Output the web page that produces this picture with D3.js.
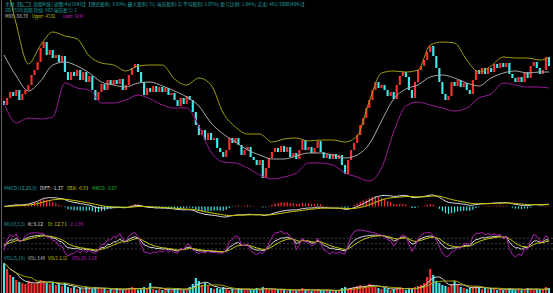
<!DOCTYPE html>
<html>
<head>
<meta charset="utf-8">
<script src="https://cdn.jsdelivr.net/npm/d3@7"></script>
<style>
  html, body { margin: 0; padding: 0; background: #000; }
  svg { display: block; }
  text { font-family: "Noto Sans CJK SC", "DejaVu Sans", sans-serif; font-size: 5px; }
</style>
</head>
<body>
<div id="chart"></div>
<script>
// closes of each weekly candle (open = previous close)
var firstOpen = 84;
var closes = [
  80, 87, 93, 89, 95, 85, 91, 95, 100, 110, 115, 123, 137, 143, 130, 135, 127, 130, 123, 129,
  113, 105, 113, 109, 115, 105, 113, 103, 109, 95, 85, 93, 101, 95, 105, 100, 105, 101, 106, 95,
  100, 110, 117, 121, 113, 103, 90, 97, 93, 99, 93, 98, 93, 97, 90, 92, 85, 79, 87, 81,
  89, 85, 73, 60, 50, 55, 45, 52, 45, 47, 37, 33, 28, 35, 47, 42, 47, 40, 30, 35,
  38, 28, 25, 20, 25, 7, 17, 27, 33, 37, 33, 39, 33, 38, 28, 32, 26, 35, 45, 35,
  38, 32, 37, 44, 33, 27, 31, 26, 31, 26, 30, 20, 11, 25, 35, 42, 50, 60, 67, 77,
  85, 95, 103, 97, 100, 95, 89, 93, 86, 100, 109, 113, 108, 95, 87, 103, 115, 119, 125, 133,
  139, 129, 117, 103, 91, 85, 89, 103, 99, 105, 98, 102, 95, 91, 105, 115, 111, 117, 111, 117,
  113, 121, 117, 122, 118, 122, 111, 107, 103, 108, 103, 113, 107, 119, 123, 117, 111, 115, 128, 119
];

var volumes = [
  30, 24, 18, 16, 13, 11, 10, 9, 12, 10,
  9, 11, 13, 12, 10, 9, 11, 8, 9, 7,
  10, 6, 5, 6, 4, 5, 4, 6, 5, 4,
  6, 5, 4, 5, 3, 4, 3, 5, 4, 3,
  4, 5, 6, 4, 3, 4, 6, 5, 10, 4,
  3, 4, 3, 5, 4, 3, 4, 5, 4, 3,
  4, 6, 9, 15, 12, 8, 10, 7, 5, 4,
  5, 4, 6, 4, 3, 4, 3, 5, 4, 3,
  4, 3, 4, 5, 3, 6, 4, 3, 4, 3,
  3, 4, 3, 2, 4, 3, 2, 3, 5, 3,
  3, 2, 3, 4, 3, 2, 3, 2, 3, 2,
  3, 5, 6, 4, 5, 6, 7, 8, 6, 7,
  9, 8, 6, 5, 4, 5, 4, 3, 4, 5,
  6, 4, 3, 5, 4, 6, 7, 8, 10, 16,
  24, 18, 12, 10, 8, 7, 6, 9, 12, 8,
  6, 5, 4, 5, 6, 7, 5, 4, 5, 4,
  4, 5, 3, 4, 3, 4, 5, 4, 3, 4,
  3, 4, 5, 4, 3, 4, 3, 4, 6, 5
];

// BOLL band readings, one every 4 candles
var bandIdx = [0, 4, 8, 12, 16, 20, 24, 28, 32, 36, 40, 44, 48, 52, 56, 60, 64, 68, 72, 76,
  80, 84, 88, 92, 96, 100, 104, 108, 112, 116, 120, 124, 128, 132, 136, 140, 144, 148, 152, 156,
  160, 164, 168, 172, 176, 179];
var upper = [215, 161, 121, 140, 153, 149, 146, 129, 122, 120, 114, 119, 120, 120, 106, 100, 107, 100, 72, 58,
  51, 51, 43, 46, 47, 44, 45, 45, 43, 49, 84, 112, 114, 113, 115, 140, 143, 142, 125, 113,
  119, 128, 127, 127, 125, 127];
var mid = [130, 109, 94, 104, 120, 123, 119, 112, 103, 100, 98, 102, 103, 99, 94, 88, 79, 62, 51, 43,
  35, 30, 26, 26, 29, 32, 32, 30, 27, 30, 41, 64, 86, 96, 100, 108, 110, 107, 102, 99,
  107, 112, 114, 112, 113, 113];
var lower = [82, 62, 67, 66, 68, 102, 97, 95, 82, 82, 85, 90, 86, 80, 77, 77, 59, 33, 23, 22,
  17, 10, 6, 8, 12, 22, 22, 20, 12, 8, 4, 17, 53, 79, 83, 80, 77, 74, 77, 87,
  91, 102, 100, 98, 98, 97];

var headerLine1 = "主图【私二】周期K线 | 调整:4v[1843]】【理论盈利: 3.99%; 最大盈利: 31; 当前盈利: 2; 平均盈利: 1.07%; 盈亏比例: 1.84%; 买卖: 481/1000(48%)】";
var headerLine2 = "20(4318)周期 持续: 983 当前盈亏: 1";
// [text, colour, left, right]
var bollLabels = [["MID: -58.78", "#c8c8c8", 5, 28], ["Upper: -47.82", "#c8c800", 32, 55], ["Lower: -54.54", "#d020d0", 63, 83]];
var macdLabels = [["MACD(12,26,9)", "#20a0a0", 4, 37], ["DIFF: -1.37", "#e0e0e0", 40, 63], ["DEA: -0.93", "#c8c800", 67, 88], ["MACD: -0.67", "#20c020", 92, 117]];
var kdjLabels = [["KDJ(9,3,3)", "#20a0a0", 4, 25], ["K: 9.12", "#e0e0e0", 28, 43], ["D: 12.71", "#c8c800", 48, 67], ["J: 1.93", "#d020d0", 70, 83]];
var volLabels = [["VOL(5,10)", "#20a0a0", 4, 25], ["VOL: 3.48", "#c8c8c8", 28, 45], ["VOL5: 2.12", "#c8c800", 48, 67], ["VOL10: 1.16", "#d020d0", 72, 97]];

var W = 553, H = 293;
var UP = "#ff3030", DOWN = "#40e8e8";

var n = closes.length;
var opens = closes.map(function(c, i) { return i === 0 ? firstOpen : closes[i - 1]; });

// ---- indicators, from the closes / volumes ----
function ema(arr, p) {
  var k = 2 / (p + 1), out = [], prev = arr[0];
  arr.forEach(function(v, i) { prev = i === 0 ? v : v * k + prev * (1 - k); out.push(prev); });
  return out;
}
var e12 = ema(closes, 12), e26 = ema(closes, 26);
var diff = e12.map(function(v, i) { return v - e26[i]; });
var dea = ema(diff, 9);
var macd = diff.map(function(v, i) { return 2 * (v - dea[i]); });

var K = [], D = [], J = [];
(function() {
  var k = 50, d = 50;
  for (var i = 0; i < n; i++) {
    var s = Math.max(0, i - 8), hi = -Infinity, lo = Infinity;
    for (var j = s; j <= i; j++) {
      hi = Math.max(hi, opens[j], closes[j]);
      lo = Math.min(lo, opens[j], closes[j]);
    }
    var rsv = hi === lo ? 50 : (closes[i] - lo) / (hi - lo) * 100;
    k = (2 * k + rsv) / 3;
    d = (2 * d + k) / 3;
    K.push(k); D.push(d); J.push(3 * k - 2 * d);
  }
})();

function ma(arr, p) {
  return arr.map(function(v, i) {
    var s = Math.max(0, i - p + 1);
    return d3.mean(arr.slice(s, i + 1));
  });
}
var vol5 = ma(volumes, 5), vol10 = ma(volumes, 10);

// ---- scales ----
var x = d3.scaleBand().domain(d3.range(n)).range([3, 550]).paddingInner(0.3);
var bw = x.bandwidth();
function cx(i) { return x(i) + bw / 2; }

var yMain = d3.scaleLinear().domain([0, 165]).range([185, 20]);
var mExt = d3.extent(diff.concat(dea, macd));
var yMacd = d3.scaleLinear().domain(mExt).range([217, 195]);
var kExt = d3.extent(K.concat(D, J));
var yKdj = d3.scaleLinear().domain(kExt).range([257, 230]);
var yVol = d3.scaleLinear().domain([0, 31]).range([293, 262]);

var svg = d3.select("#chart").append("svg")
  .attr("width", W)
  .attr("height", H)
  .style("background-color", "#000");

// left axis line
svg.append("line")
  .attr("x1", 1.5).attr("x2", 1.5).attr("y1", 0).attr("y2", H)
  .attr("stroke", "#606060").attr("stroke-width", 1);

// ---- main: candles ----
var candles = svg.append("g");
d3.range(n).forEach(function(i) {
  var o = opens[i], c = closes[i];
  var top = yMain(Math.max(o, c)), bot = yMain(Math.min(o, c));
  candles.append("rect")
    .attr("x", x(i))
    .attr("y", top)
    .attr("width", bw)
    .attr("height", Math.max(1, bot - top))
    .attr("fill", c >= o ? UP : DOWN);
});

// BOLL lines
function bandLine(vals, color) {
  svg.append("path")
    .datum(vals)
    .attr("fill", "none")
    .attr("stroke", color)
    .attr("stroke-width", 1)
    .attr("d", d3.line()
      .curve(d3.curveMonotoneX)
      .x(function(d, k) { return cx(bandIdx[k]); })
      .y(function(d) { return yMain(d); }));
}
bandLine(upper, "#9c9c10");
bandLine(mid, "#a8a8a8");
bandLine(lower, "#9a1a9a");

// ---- MACD ----
var macdG = svg.append("g");
d3.range(n).forEach(function(i) {
  macdG.append("line")
    .attr("x1", cx(i)).attr("x2", cx(i))
    .attr("y1", yMacd(0)).attr("y2", yMacd(macd[i]))
    .attr("stroke", macd[i] >= 0 ? UP : DOWN)
    .attr("stroke-width", 1.2);
});
function seriesLine(g, vals, yS, color) {
  g.append("path")
    .datum(vals)
    .attr("fill", "none")
    .attr("stroke", color)
    .attr("stroke-width", 1)
    .attr("d", d3.line()
      .x(function(d, i) { return cx(i); })
      .y(function(d) { return yS(d); }));
}
seriesLine(macdG, diff, yMacd, "#d8d8d8");
seriesLine(macdG, dea, yMacd, "#c8c800");

// ---- KDJ ----
var kdjG = svg.append("g");
[80, 50, 20].forEach(function(v) {
  kdjG.append("line")
    .attr("x1", 3).attr("x2", W).attr("y1", yKdj(v)).attr("y2", yKdj(v))
    .attr("stroke", "#505050").attr("stroke-width", 0.8)
    .attr("stroke-dasharray", "2,2");
});
seriesLine(kdjG, K, yKdj, "#d8d8d8");
seriesLine(kdjG, D, yKdj, "#c8c800");
seriesLine(kdjG, J, yKdj, "#b020b0");

// ---- VOL ----
var volG = svg.append("g");
d3.range(n).forEach(function(i) {
  volG.append("rect")
    .attr("x", x(i))
    .attr("y", yVol(volumes[i]))
    .attr("width", bw)
    .attr("height", yVol(0) - yVol(volumes[i]))
    .attr("fill", closes[i] >= opens[i] ? UP : DOWN);
});
seriesLine(volG, vol5, yVol, "#d8d8d8");
seriesLine(volG, vol10, yVol, "#a8a800");

// ---- texts ----
svg.append("text").attr("x", 5).attr("y", 6).attr("fill", "#20a0a0")
  .attr("textLength", 302).attr("lengthAdjust", "spacingAndGlyphs").text(headerLine1);
svg.append("text").attr("x", 5).attr("y", 12).attr("fill", "#20a0a0")
  .attr("textLength", 72).attr("lengthAdjust", "spacingAndGlyphs").text(headerLine2);

function labelRow(items, y) {
  items.forEach(function(it) {
    svg.append("text")
      .attr("x", it[2]).attr("y", y)
      .attr("fill", it[1])
      .attr("textLength", it[3] - it[2])
      .attr("lengthAdjust", "spacingAndGlyphs")
      .text(it[0]);
  });
}
labelRow(bollLabels, 18);
labelRow(macdLabels, 190);
labelRow(kdjLabels, 226);
labelRow(volLabels, 260);
</script>
</body>
</html>
